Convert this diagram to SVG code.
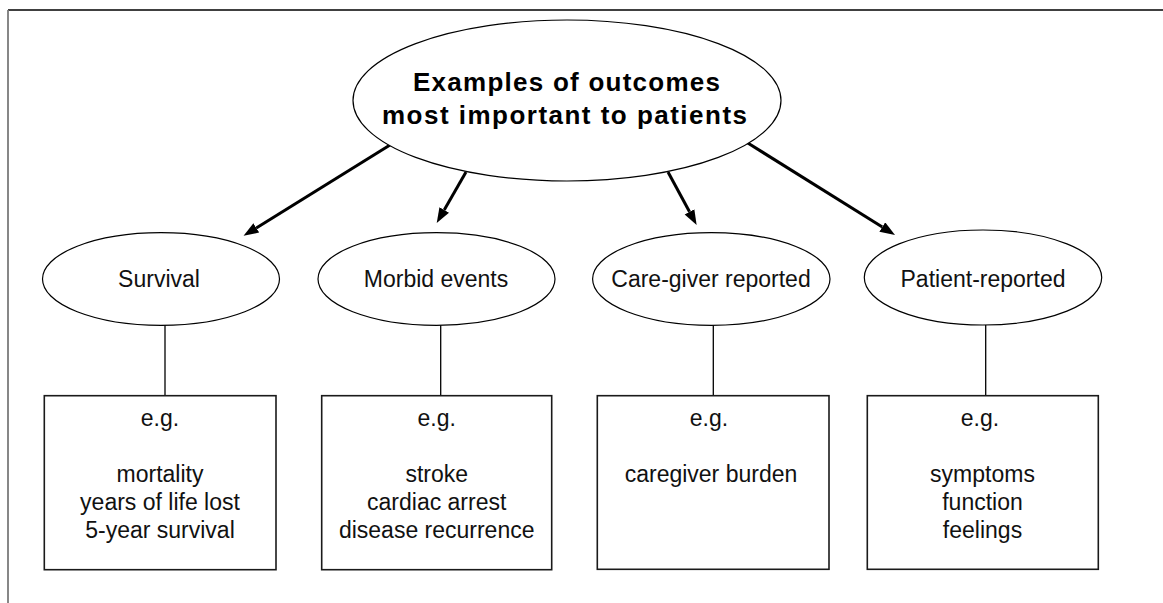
<svg xmlns="http://www.w3.org/2000/svg" width="1163" height="603" viewBox="0 0 1163 603">
  <style>
    .bg { fill: #ffffff; }
    .oval { fill: #ffffff; stroke: #000000; stroke-width: 1.2; }
    .box { fill: #ffffff; stroke: #1a1a1a; stroke-width: 1.6; }
    .link { stroke: #000000; stroke-width: 1.3; fill: none; }
    .arrow { stroke: #000000; stroke-width: 3; fill: none; marker-end: url(#head); }
    .title { font-family: "Liberation Sans", Arial, sans-serif; font-weight: bold; font-size: 26px; fill: #000000; text-anchor: middle; }
    .lbl { font-family: "Liberation Sans", Arial, sans-serif; font-size: 23px; fill: #111111; text-anchor: middle; }
  </style>
  <defs>
    <marker id="head" markerUnits="userSpaceOnUse" markerWidth="16" markerHeight="12" refX="0" refY="5.5" orient="auto">
      <path d="M0,0 L15,5.5 L0,11 z" fill="#000000"/>
    </marker>
  </defs>
  <rect class="bg" x="0" y="0" width="1163" height="603"/>
  <g id="frame">
    <line x1="8" y1="10" x2="1163" y2="10" stroke="#000000" stroke-width="1.5"/>
    <line x1="8" y1="10" x2="8" y2="603" stroke="#7a7a7a" stroke-width="1.8"/>
  </g>

  <g id="connectors">
    <line class="arrow" x1="390" y1="145" x2="256.3" y2="227.9"/>
    <line class="arrow" x1="466" y1="172" x2="444.2" y2="210"/>
    <line class="arrow" x1="668" y1="172" x2="689.5" y2="211.8"/>
    <line class="arrow" x1="747" y1="142.5" x2="882.3" y2="227"/>
    <line class="link" x1="165" y1="325" x2="165" y2="396"/>
    <line class="link" x1="440.7" y1="325" x2="440.7" y2="396"/>
    <line class="link" x1="713.3" y1="325" x2="713.3" y2="396"/>
    <line class="link" x1="985.7" y1="325" x2="985.7" y2="396"/>
  </g>

  <g id="main">
    <ellipse class="oval" cx="567" cy="100.5" rx="214" ry="80.5"/>
    <text class="title" x="566.5" y="90.5" textLength="307" lengthAdjust="spacing">Examples of outcomes</text>
    <text class="title" x="564.5" y="123.5" textLength="365" lengthAdjust="spacing">most important to patients</text>
  </g>

  <g id="survival">
    <ellipse class="oval" cx="161" cy="279" rx="118.5" ry="46.3"/>
    <text class="lbl" x="159" y="286.7">Survival</text>
  </g>
  <g id="morbid">
    <ellipse class="oval" cx="436.5" cy="279" rx="118.5" ry="46.3"/>
    <text class="lbl" x="436" y="286.7">Morbid events</text>
  </g>
  <g id="caregiver">
    <ellipse class="oval" cx="711.3" cy="279" rx="118.7" ry="46.3"/>
    <text class="lbl" x="711" y="286.7">Care-giver reported</text>
  </g>
  <g id="patient">
    <ellipse class="oval" cx="983" cy="277.5" rx="118.7" ry="47.5"/>
    <text class="lbl" x="983" y="286.7">Patient-reported</text>
  </g>

  <g id="box-survival">
    <rect class="box" x="44.3" y="395.7" width="231.7" height="174"/>
    <text class="lbl" x="160" y="426">e.g.</text>
    <text class="lbl" x="160" y="481.7">mortality</text>
    <text class="lbl" x="160" y="509.5">years of life lost</text>
    <text class="lbl" x="160" y="537.5">5-year survival</text>
  </g>
  <g id="box-morbid">
    <rect class="box" x="321.7" y="395.7" width="230" height="174"/>
    <text class="lbl" x="436.7" y="426">e.g.</text>
    <text class="lbl" x="436.7" y="481.7">stroke</text>
    <text class="lbl" x="436.7" y="509.5">cardiac arrest</text>
    <text class="lbl" x="436.7" y="537.5">disease recurrence</text>
  </g>
  <g id="box-caregiver">
    <rect class="box" x="597.3" y="395.7" width="231.7" height="173.6"/>
    <text class="lbl" x="709" y="426">e.g.</text>
    <text class="lbl" x="711" y="481.7">caregiver burden</text>
  </g>
  <g id="box-patient">
    <rect class="box" x="867.3" y="395.7" width="231" height="173.6"/>
    <text class="lbl" x="980" y="426">e.g.</text>
    <text class="lbl" x="982.5" y="481.7">symptoms</text>
    <text class="lbl" x="982.5" y="509.5">function</text>
    <text class="lbl" x="982.5" y="537.5">feelings</text>
  </g>
</svg>
